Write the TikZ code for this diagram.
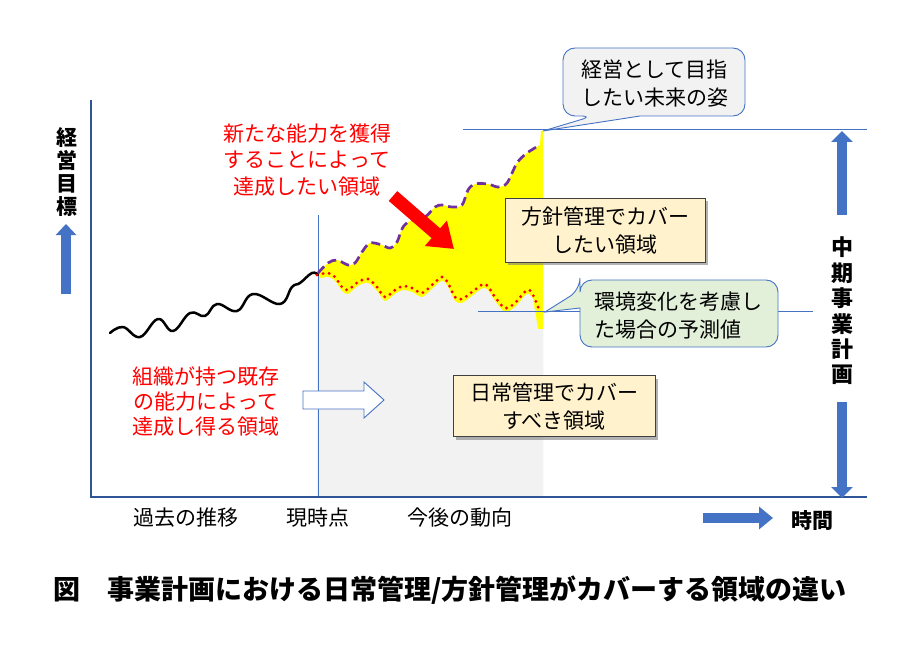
\documentclass[tikz,border=0pt]{standalone}
\usepackage{fontspec}
\setmainfont{Noto Sans CJK JP}
\usetikzlibrary{arrows.meta,shadows}
\definecolor{axisblue}{HTML}{4472C4}
\definecolor{darkaxis}{HTML}{2F5597}
\definecolor{purp}{HTML}{7030A0}
\definecolor{lgray}{HTML}{F2F2F2}
\definecolor{boxyel}{HTML}{FFF2CC}
\definecolor{lgreen}{HTML}{E2F0D9}
\definecolor{bright}{HTML}{FFFF00}
\tikzset{
  txt/.style={font=\fontsize{21}{28}\selectfont, inner sep=0pt},
  redtxt/.style={txt, text=red, align=center},
  boldv/.style={font=\fontsize{22}{25.4}\selectfont\bfseries, align=center, inner sep=0pt},
  ybox/.style={draw=black!75, line width=0.8pt, fill=boxyel, align=center,
     font=\fontsize{21}{28}\selectfont,
     drop shadow={shadow xshift=3pt, shadow yshift=-3pt, fill=black!50, opacity=0.6}},
  callg/.style={draw=axisblue, line width=0.9pt, fill=lgray},
  callgr/.style={draw=axisblue, line width=0.9pt, fill=lgreen},
  guide/.style={draw=axisblue, line width=1pt},
  blarrow/.style={draw=axisblue, line width=10pt, -{Triangle[width=21pt,length=11pt]}},
}
\begin{document}
\begin{tikzpicture}[x=1pt,y=-1pt]
\useasboundingbox (0,0) rectangle (900,650);
% fills
\fill[bright] plot[smooth, tension=0.55] coordinates {(318,273) (328,263) (337,260) (348,265) (355,263) (362,252) (370,243) (382,245) (390,248) (397,242) (403,227) (412,220) (425,217) (435,207) (442,205) (452,207) (462,205) (468,190) (475,184) (488,184) (498,187) (507,183) (517,163) (527,153) (540,145)} -- (541,131) -- (543,131) -- (543,497) -- (318,497) -- cycle;
\fill[lgray] plot[smooth, tension=0.55] coordinates {(317,279) (328,277) (335,281) (342,291) (348,294) (358,286) (368,283) (377,291) (385,301) (395,294) (403,290) (412,292) (422,297) (432,289) (442,281) (448,287) (455,301) (462,303) (472,296) (485,288) (495,301) (505,312) (515,307) (527,294) (533,299)} -- (538,329) -- (543,329) -- (543,497) -- (317,497) -- cycle;
% guide lines
\draw[guide] (463,130) -- (867,130);
\draw[guide] (478,311) -- (813,311);
\draw[guide] (318,215) -- (318,497);
\draw[draw=darkaxis, line width=1.2pt] (91,100) -- (91,497) -- (867,497);
% curves
\draw[line width=2.5pt, line cap=round, line join=round] plot[smooth, tension=0.7] coordinates {(110,333) (123,327) (140,337) (158,319) (173,331) (190,313) (205,316) (217,304) (237,311) (253,294) (280,304) (292,287) (300,283) (312,273) (318,275)};
\draw[purp, line width=2.7pt, dash pattern=on 9pt off 5pt] plot[smooth, tension=0.55] coordinates {(318,273) (328,263) (337,260) (348,265) (355,263) (362,252) (370,243) (382,245) (390,248) (397,242) (403,227) (412,220) (425,217) (435,207) (442,205) (452,207) (462,205) (468,190) (475,184) (488,184) (498,187) (507,183) (517,163) (527,153) (540,145)};
\draw[red, line width=3.2pt, dash pattern=on 0pt off 6.2pt, line cap=round] plot[smooth, tension=0.55] coordinates {(317,275) (328,273) (335,277) (342,287) (348,290) (358,282) (368,279) (377,287) (385,297) (395,290) (403,286) (412,288) (422,293) (432,285) (442,277) (448,283) (455,297) (462,299) (472,292) (485,284) (495,297) (505,308) (515,303) (527,290) (533,295) (540,312)};
% callouts
\draw[callg] (640,116) [rounded corners=12pt] -- (745,116) -- (745,48) -- (563,48) -- (563,116) -- (593,116) [sharp corners] -- (543,131) -- cycle;
\node[txt, align=left] (goal) at (655,84) {経営として目指\\したい未来の姿};
\draw[callgr] (580,308) [rounded corners=12pt] -- (580,347) -- (778,347) -- (778,280) -- (580,280) -- (580,290) [sharp corners] -- (545,312) -- cycle;
\node[txt, align=left] (pred) at (678,316) {環境変化を考慮し\\た場合の予測値};
% yellow boxes
\node[ybox, minimum width=200pt, minimum height=64pt] (hoshin) at (605,230) {方針管理でカバー\\したい領域};
\node[ybox, minimum width=202pt, minimum height=61pt] (nichijo) at (554,406) {日常管理でカバー\\すべき領域};
% red texts
\node[redtxt, font=\fontsize{21}{26.5}\selectfont] (newcap) at (307,160) {新たな能力を獲得\\することによって\\達成したい領域};
\node[redtxt, font=\fontsize{21}{25}\selectfont] (oldcap) at (206,402) {組織が持つ既存\\の能力によって\\達成し得る領域};
% red arrow
\coordinate (ra1) at (393,196);
\coordinate (ra2) at (454,249);
\draw[red, line width=13pt, -{Triangle[width=32pt,length=24pt]}] (ra1) -- (ra2);
% white block arrow
\draw[draw=axisblue, fill=white, line width=0.9pt] (303,391) -- (364,391) -- (364,382) -- (384,400) -- (364,418) -- (364,409) -- (303,409) -- cycle;
% axis labels
\node[boldv, font=\fontsize{21}{23}\selectfont\bfseries] (ylab) at (67,172) {経\\営\\目\\標};
\coordinate (ya1) at (66,294);
\coordinate (ya2) at (66,224);
\draw[blarrow, line width=10pt, -{Triangle[width=20pt,length=11pt]}] (ya1) -- (ya2);
\node[boldv] (plan) at (842,311) {中\\期\\事\\業\\計\\画};
\coordinate (pu1) at (842,215);
\coordinate (pu2) at (842,131);
\coordinate (pd1) at (842,402);
\coordinate (pd2) at (842,498);
\draw[blarrow] (pu1) -- (pu2);
\draw[blarrow] (pd1) -- (pd2);
\coordinate (ta1) at (703,518);
\coordinate (ta2) at (773,518);
\draw[blarrow, -{Triangle[width=22pt,length=14pt]}] (ta1) -- (ta2);
\node[txt, font=\fontsize{21}{25}\selectfont\bfseries] (time) at (812,521) {時間};
% bottom labels
\node[txt] (past) at (186,518) {過去の推移};
\node[txt] (now) at (318,518) {現時点};
\node[txt] (future) at (460,518) {今後の動向};
% caption
\node[txt, font=\fontsize{27}{30}\selectfont\bfseries, anchor=west] (cap) at (53,590) {図\hspace{1em}事業計画における日常管理/方針管理がカバーする領域の違い};
\end{tikzpicture}
\end{document}
